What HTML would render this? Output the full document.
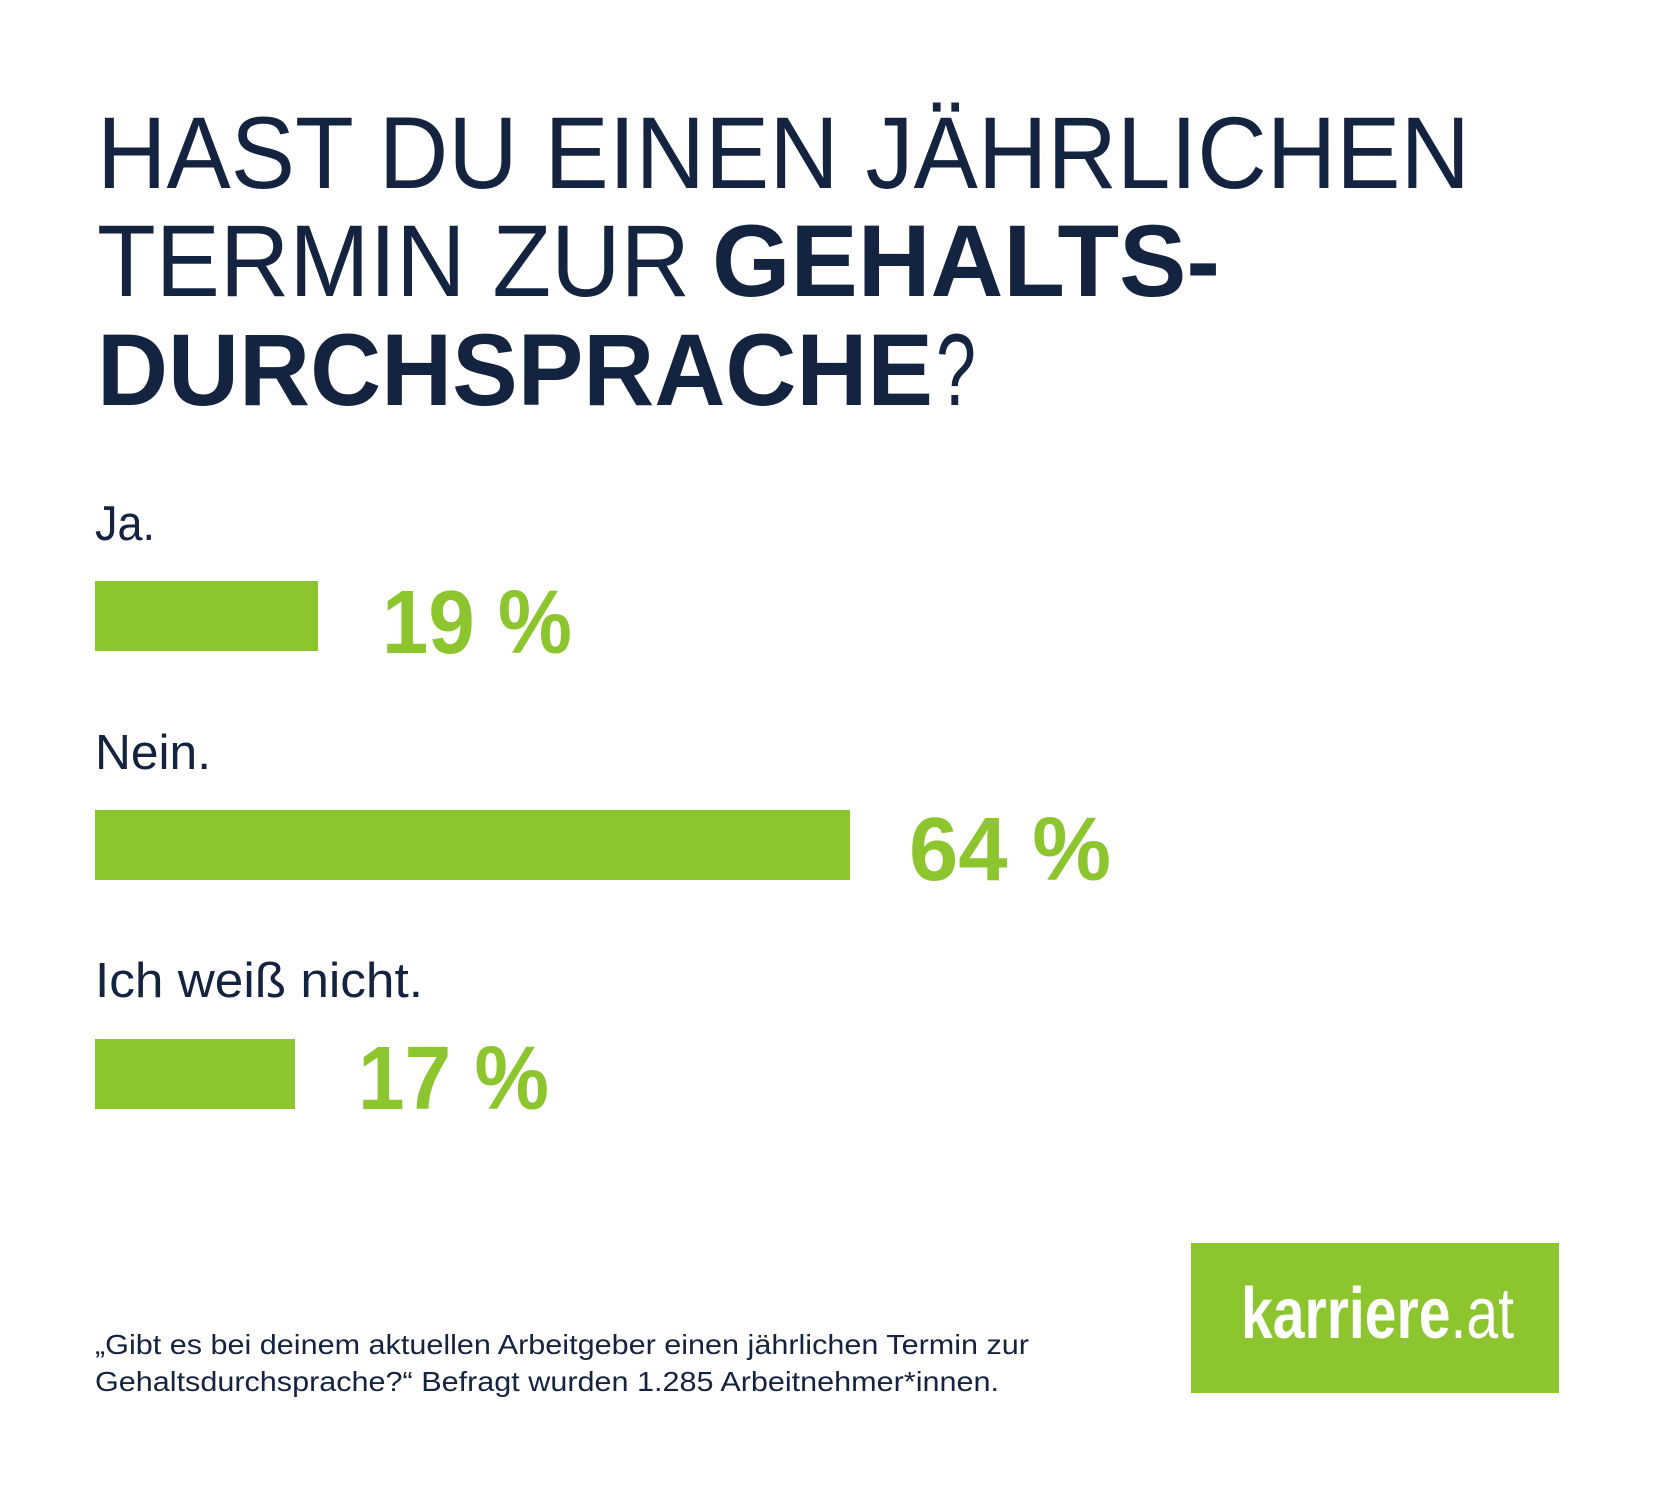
<!DOCTYPE html>
<html><head><meta charset="utf-8"><style>
html,body{margin:0;padding:0;background:#fff;}
svg{display:block;}
text{font-family:"Liberation Sans",sans-serif;}
</style></head><body>
<svg width="1654" height="1488" viewBox="0 0 1654 1488" xmlns="http://www.w3.org/2000/svg">
<rect width="1654" height="1488" fill="#fff"/>
<g fill="#14233f">
<text x="97" y="188" font-size="102" textLength="1373" lengthAdjust="spacingAndGlyphs">HAST DU EINEN JÄHRLICHEN</text>
<text x="97" y="296" font-size="102" textLength="593" lengthAdjust="spacingAndGlyphs">TERMIN ZUR</text>
<text x="712" y="296" font-size="102" font-weight="bold" textLength="508" lengthAdjust="spacingAndGlyphs">GEHALTS-</text>
<text x="97" y="405" font-size="102" font-weight="bold" textLength="836" lengthAdjust="spacingAndGlyphs">DURCHSPRACHE</text>
<text x="936" y="405" font-size="102" textLength="40" lengthAdjust="spacingAndGlyphs">?</text>
<text x="95" y="540" font-size="49" textLength="60" lengthAdjust="spacingAndGlyphs">Ja.</text>
<text x="95" y="769" font-size="49" textLength="116" lengthAdjust="spacingAndGlyphs">Nein.</text>
<text x="95" y="997" font-size="49" textLength="328" lengthAdjust="spacingAndGlyphs">Ich weiß nicht.</text>
<text x="95" y="1354" font-size="28" textLength="934" lengthAdjust="spacingAndGlyphs">„Gibt es bei deinem aktuellen Arbeitgeber einen jährlichen Termin zur</text>
<text x="95" y="1391" font-size="28" textLength="904" lengthAdjust="spacingAndGlyphs">Gehaltsdurchsprache?“ Befragt wurden 1.285 Arbeitnehmer*innen.</text>
</g>
<g fill="#8dc52e">
<rect x="95" y="581" width="223" height="70"/>
<rect x="95" y="810" width="755" height="70"/>
<rect x="95" y="1039" width="200" height="70"/>
<text x="382" y="653" font-size="90" font-weight="bold" textLength="190" lengthAdjust="spacingAndGlyphs">19 %</text>
<text x="909" y="880" font-size="90" font-weight="bold" textLength="202" lengthAdjust="spacingAndGlyphs">64 %</text>
<text x="358" y="1109" font-size="90" font-weight="bold" textLength="191" lengthAdjust="spacingAndGlyphs">17 %</text>
<rect x="1191" y="1243" width="368" height="150"/>
</g>
<text x="1241" y="1338" font-size="72" font-weight="bold" fill="#fff" textLength="273" lengthAdjust="spacingAndGlyphs">karriere<tspan font-weight="normal">.at</tspan></text>
</svg>
</body></html>
